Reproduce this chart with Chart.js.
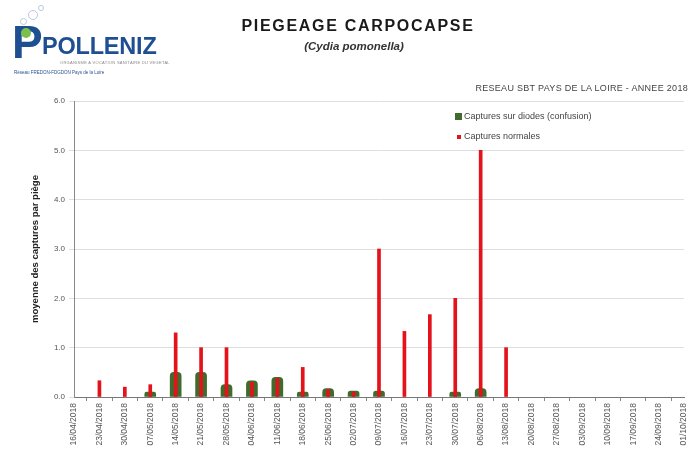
<!DOCTYPE html>
<html>
<head>
<meta charset="utf-8">
<script src="https://cdn.jsdelivr.net/npm/chart.js@4.4.0/dist/chart.umd.min.js"></script>
<style>
  html, body { margin: 0; padding: 0; background: #fff; }
  #wrap { position: relative; width: 697px; height: 450px; overflow: hidden; font-family: Arial, "Liberation Sans", sans-serif; }
  #c { position: absolute; left: 0; top: 0; }
  .abs { position: absolute; white-space: nowrap; }
  #titre { left: 0; width: 716px; top: 17px; text-align: center; font-weight: bold; font-size: 16px; letter-spacing: 1.7px; color: #1a1a1a; }
  #soustitre { left: 0; width: 708px; top: 40px; text-align: center; font-weight: bold; font-style: italic; font-size: 11.5px; color: #333; }
  #reseau { right: 9px; top: 83px; font-size: 9px; color: #444; letter-spacing: 0.3px; }
  #legende { left: 455px; top: 110px; font-size: 9px; color: #444; }
  #legende div { height: 20px; line-height: 13px; }
  #legende span.m { display: inline-block; vertical-align: middle; margin-right: 2px; }
  #logo-p { left: 12px; top: 20px; font-size: 46px; font-weight: bold; color: #1d4f91; line-height: 44px; }
  #logo-p i { position: absolute; left: 9px; top: 8px; width: 10px; height: 10px; border-radius: 50%; background: #7cc04b; }
  #logo-txt { left: 42px; top: 33px; font-size: 23.5px; font-weight: bold; color: #1f4f93; letter-spacing: -0.2px; }
  #logo-l1 { left: 60px; top: 60px; font-size: 4px; color: #888; letter-spacing: 0.3px; }
  #logo-l2 { left: 14px; top: 70px; font-size: 4.5px; color: #27508f; }
  .bulle { position: absolute; border: 1px solid #b9c7de; border-radius: 50%; }
</style>
</head>
<body>
<div id="wrap">
  <canvas id="c" width="697" height="450"></canvas>
  <div class="bulle" style="left:28px;top:10px;width:8px;height:8px;"></div>
  <div class="bulle" style="left:20px;top:18px;width:5px;height:5px;"></div>
  <div class="bulle" style="left:38px;top:5px;width:4px;height:4px;"></div>
  <div id="logo-p" class="abs">P<i></i></div>
  <div id="logo-txt" class="abs">POLLENIZ</div>
  <div id="logo-l1" class="abs">ORGANISME A VOCATION SANITAIRE DU VEGETAL</div>
  <div id="logo-l2" class="abs">Réseau FREDON-FDGDON Pays de la Loire</div>
  <div id="titre" class="abs">PIEGEAGE CARPOCAPSE</div>
  <div id="soustitre" class="abs">(Cydia pomonella)</div>
  <div id="reseau" class="abs">RESEAU SBT PAYS DE LA LOIRE - ANNEE 2018</div>
  <div id="legende" class="abs">
    <div><span class="m" style="width:7px;height:7px;background:#3f6b2d;"></span>Captures sur diodes (confusion)</div>
    <div><span class="m" style="width:4px;height:4px;background:#e3121b;margin-left:2px;margin-right:3px;"></span>Captures normales</div>
  </div>
</div>
<script>
// dates de relevé (lundis)
const dates = [
    '16/04/2018', '23/04/2018', '30/04/2018', '07/05/2018', '14/05/2018',
    '21/05/2018', '28/05/2018', '04/06/2018', '11/06/2018', '18/06/2018',
    '25/06/2018', '02/07/2018', '09/07/2018', '16/07/2018', '23/07/2018',
    '30/07/2018', '06/08/2018', '13/08/2018', '20/08/2018', '27/08/2018',
    '03/09/2018', '10/09/2018', '17/09/2018', '24/09/2018', '01/10/2018'
];

// moyenne des captures par piège
const capturesConfusion = [
    null, null, null, 0.1, 0.5,
    0.5, 0.25, 0.33, 0.4, 0.1,
    0.17, 0.12, 0.12, null, null,
    0.1, 0.17, null, null, null,
    null, null, null, null, null
];
const capturesNormales = [
    null, 0.33, 0.2, 0.25, 1.3,
    1.0, 1.0, 0.3, 0.38, 0.6,
    0.15, 0.1, 3.0, 1.33, 1.67,
    2.0, 5.0, 1.0, null, null,
    null, null, null, null, null
];

const ticksY = [0, 1, 2, 3, 4, 5, 6];

const ctx = document.getElementById('c').getContext('2d');
new Chart(ctx, {
    type: 'bar',
    data: {
        labels: dates,
        datasets: [{
            label: 'Captures normales',
            data: capturesNormales,
            backgroundColor: '#e3121b',
            barThickness: 3,
            grouped: false,
            order: 0
        }, {
            label: 'Captures sur diodes (confusion)',
            data: capturesConfusion,
            backgroundColor: '#3f6b2d',
            barThickness: 11,
            borderRadius: { topLeft: 4, topRight: 4 },
            borderSkipped: 'bottom',
            grouped: false,
            order: 1
        }]
    },
    options: {
        responsive: false,
        animation: false,
        layout: { padding: { top: 101, left: 27, right: 13, bottom: 0 } },
        plugins: {
            legend: { display: false },
            tooltip: { enabled: false }
        },
        scales: {
            x: {
                offset: false,
                grid: { display: true, drawOnChartArea: false, tickLength: 4, color: '#888' },
                border: { color: '#777' },
                ticks: {
                    autoSkip: false,
                    minRotation: 90,
                    maxRotation: 90,
                    padding: 2,
                    color: '#555',
                    font: { size: 8.5, family: 'Arial' }
                },
                afterFit: (s) => { s.height = 53; }
            },
            y: {
                min: 0,
                max: 6,
                afterBuildTicks: (s) => { s.ticks = ticksY.map(v => ({ value: v })); },
                grid: { color: '#dedede', tickLength: 5 },
                border: { color: '#888' },
                ticks: {
                    padding: 4,
                    color: '#555',
                    font: { size: 8, family: 'Arial' },
                    callback: (v) => v.toFixed(1)
                },
                title: {
                    display: true,
                    text: 'moyenne des captures par piège',
                    color: '#222',
                    font: { size: 9.5, weight: 'bold', family: 'Arial' },
                    padding: { top: 3, bottom: 0 }
                },
                afterFit: (s) => { s.width = 47; }
            }
        }
    }
});
</script>
</body>
</html>
